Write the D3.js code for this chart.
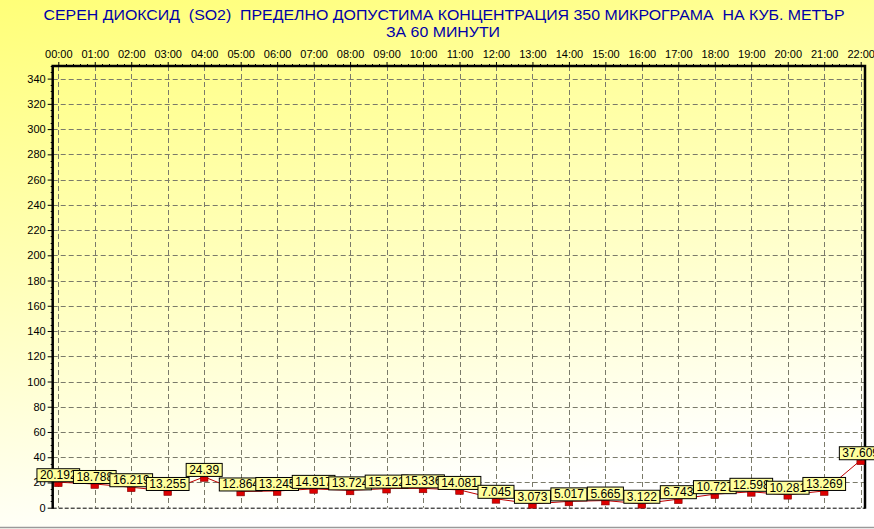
<!DOCTYPE html>
<html><head><meta charset="utf-8">
<script src="https://cdn.jsdelivr.net/npm/d3@7"></script>
<style>html,body{margin:0;padding:0;background:#fff;}svg{display:block;}</style>
</head><body>
<script>
const hours = ["00:00","01:00","02:00","03:00","04:00","05:00","06:00","07:00","08:00","09:00","10:00","11:00","12:00","13:00","14:00","15:00","16:00","17:00","18:00","19:00","20:00","21:00","22:00"];
const values = [20.192,18.788,16.219,13.255,24.39,12.864,13.245,14.917,13.724,15.122,15.336,14.081,7.045,3.073,5.017,5.665,3.122,6.743,10.727,12.598,10.281,13.269,37.609];
const labels = ["20.192","18.788","16.219","13.255","24.39","12.864","13.245","14.917","13.724","15.122","15.336","14.081","7.045","3.073","5.017","5.665","3.122","6.743","10.727","12.598","10.281","13.269","37.609"];
const yTicks = d3.range(0, 341, 20);
const titleLine1 = "СЕРЕН ДИОКСИД  (SO2)  ПРЕДЕЛНО ДОПУСТИМА КОНЦЕНТРАЦИЯ 350 МИКРОГРАМА  НА КУБ. МЕТЪР";
const titleLine2 = "ЗА 60 МИНУТИ";

const W = 874, H = 529;
const L = 52.7, R = 865, T = 66, B = 507.7;
const svg = d3.select("body").append("svg").attr("width", W).attr("height", H)
  .style("font-family", "'Liberation Sans', Arial, sans-serif");

const defs = svg.append("defs");
const g = defs.append("linearGradient").attr("id","bg").attr("x1","0").attr("y1","0").attr("x2","0.25").attr("y2","1");
g.append("stop").attr("offset","0").attr("stop-color","#ffff78");
g.append("stop").attr("offset","0.5").attr("stop-color","#ffffb8");
g.append("stop").attr("offset","1").attr("stop-color","#ffffff");
svg.append("rect").attr("width", W).attr("height", H).attr("fill","url(#bg)");
svg.append("line").attr("x1",0).attr("x2",W).attr("y1",527.5).attr("y2",527.5).attr("stroke","#9a9a9a").attr("stroke-width",1.5);

const x = d3.scalePoint().domain(hours).range([58.3, 860.7]);
const y = d3.scaleLinear().domain([0, 350]).range([B, T]);

// Title
svg.append("text").attr("x", 444).attr("y", 19.5).attr("text-anchor","middle")
  .attr("font-size", 15).attr("fill", "#0000a8").attr("xml:space","preserve").style("white-space","pre")
  .attr("textLength", 801).attr("lengthAdjust","spacingAndGlyphs").text(titleLine1);
svg.append("text").attr("x", 443).attr("y", 37).attr("text-anchor","middle")
  .attr("font-size", 15).attr("fill", "#0000a8")
  .attr("textLength", 114).attr("lengthAdjust","spacingAndGlyphs").text(titleLine2);

// Grid
const grid = svg.append("g").attr("stroke","#7a7a6a").attr("stroke-width",1).attr("stroke-dasharray","5,3");
grid.selectAll("line.h").data(yTicks.filter(d => d > 0)).join("line")
  .attr("x1", L).attr("x2", R).attr("y1", d => Math.round(y(d)) + 0.5).attr("y2", d => Math.round(y(d)) + 0.5);
grid.selectAll("line.v").data(hours).join("line")
  .attr("x1", d => Math.round(x(d)) + 0.5).attr("x2", d => Math.round(x(d)) + 0.5).attr("y1", T).attr("y2", B);
// bottom dashed baseline
svg.append("line").attr("x1", L).attr("x2", R).attr("y1", B + 0.5).attr("y2", B + 0.5)
  .attr("stroke","#000").attr("stroke-width",1).attr("stroke-dasharray","4,2");

// Y axis
const yAxis = d3.axisLeft(y).tickValues(yTicks).tickSize(5).tickPadding(2).tickFormat(d3.format("d"));
const ya = svg.append("g").attr("transform", `translate(${L},0)`).call(yAxis);
ya.select(".domain").remove();
ya.selectAll("text").attr("font-size", 11).attr("fill", "#000").attr("font-family","'Liberation Sans', Arial, sans-serif");
ya.selectAll("line").attr("stroke","#000");
const minorY = d3.range(0, 351, 5).filter(d => d % 20 !== 0);
svg.append("g").selectAll("line").data(minorY).join("line")
  .attr("x1", L - 2).attr("x2", L).attr("y1", d => Math.round(y(d)) + 0.5).attr("y2", d => Math.round(y(d)) + 0.5)
  .attr("stroke", "#000");

// Top axis
const xAxis = d3.axisTop(x).tickSize(4).tickPadding(4);
const xa = svg.append("g").attr("transform", `translate(0,${T})`).call(xAxis);
xa.select(".domain").remove();
xa.selectAll("text").attr("font-size", 11).attr("fill", "#000").attr("font-family","'Liberation Sans', Arial, sans-serif");
xa.selectAll("line").attr("stroke","#000");
const step = x.step();
const minorX = [];
hours.slice(0, -1).forEach(h => { for (let k = 1; k < 5; k++) minorX.push(x(h) + k * step / 5); });
svg.append("g").selectAll("line").data(minorX).join("line")
  .attr("x1", d => Math.round(d) + 0.5).attr("x2", d => Math.round(d) + 0.5).attr("y1", T - 2).attr("y2", T)
  .attr("stroke", "#000");

// Frame
svg.append("path").attr("d", `M${L},${B + 1}V${T}H${R}V${B + 1}`).attr("fill","none")
  .attr("stroke","#000").attr("stroke-width",2.5);

// Line
const line = d3.line().x((d, i) => x(hours[i])).y(d => y(d));
svg.append("path").datum(values).attr("d", line).attr("fill","none").attr("stroke","#c00000").attr("stroke-width",1);

// Markers
svg.append("g").selectAll("rect").data(values).join("rect")
  .attr("x", (d, i) => x(hours[i]) - 3.8).attr("y", d => y(d)).attr("width", 7.6).attr("height", 4.4)
  .attr("fill", "#dd0000").attr("stroke", "#800000").attr("stroke-width", 0.6);

// Labels
const lg = svg.append("g");
values.forEach((v, i) => {
  const gg = lg.append("g");
  const t = gg.append("text").attr("font-size", 12).attr("fill","#000").attr("text-anchor","middle")
    .attr("x", x(hours[i])).attr("y", y(v) - 3).text(labels[i]);
  const w = t.node().getComputedTextLength() + 6;
  gg.insert("rect", "text").attr("x", x(hours[i]) - w / 2).attr("y", y(v) - 13.5)
    .attr("width", w).attr("height", 13).attr("fill", "#ffff9c").attr("stroke", "#000").attr("stroke-width", 1);
});
</script>
</body></html>
